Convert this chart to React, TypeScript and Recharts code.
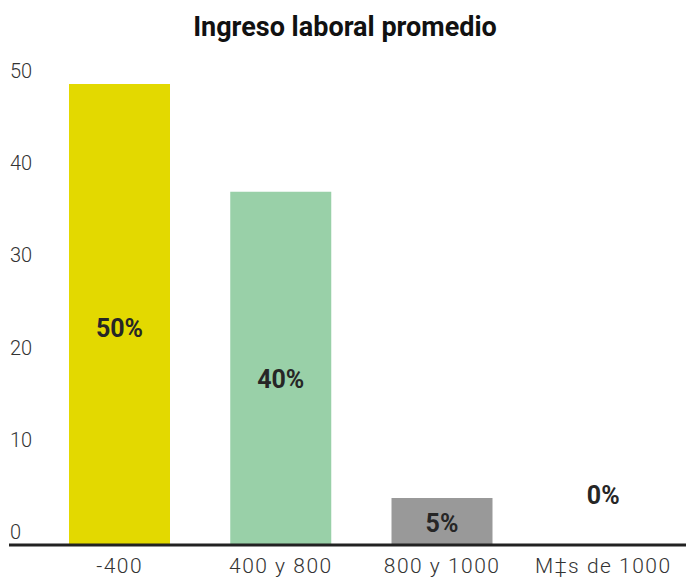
import React from 'react';
import { BarChart, Bar, XAxis, YAxis, Cell, LabelList } from 'recharts';

// --- Data ---
const categories = ['-400', '400 y 800', '800 y 1000', 'M‡s de 1000'];
const values = [50, 38.3, 5.1, 0];
const percentLabels = ['50%', '40%', '5%', '0%'];
const barColors = ['#e3d900', '#99d0a8', '#999999', 'transparent'];
const yTicks = [0, 10, 20, 30, 40, 50];

const data = categories.map((name, i) => ({ name, value: values[i], label: percentLabels[i] }));

const FONT = 'Roboto, "Noto Sans", sans-serif';

const YTick = (props: any) => {
  const { y, payload } = props;
  return (
    <text x={10} y={y - 13} dy="0.35em" textAnchor="start" fontFamily={FONT} fontWeight={300} fontSize={20} fill="#333">
      {payload.value}
    </text>
  );
};

const XTick = (props: any) => {
  const { x, y, payload } = props;
  return (
    <text x={x} y={y + 13} dy="0.35em" textAnchor="middle" fontFamily={FONT} fontWeight={300} fontSize={21} fill="#333" letterSpacing={1.5}>
      {payload.value}
    </text>
  );
};

const BarLabel = (props: any) => {
  const { x, y, width, height, index } = props;
  const h = Number(height) || 0;
  // empty bars get their label floated above the baseline
  const ly = h < 2 ? Number(y) + h - 50 : Number(y) + h * 0.53;
  return (
    <text x={Number(x) + Number(width) / 2} y={ly} dy="0.35em" textAnchor="middle" fontFamily={FONT} fontWeight={700} fontSize={25} fill="#262626">
      {percentLabels[index]}
    </text>
  );
};

const App: React.FC = () => {
  return (
    <div style={{ position: 'absolute', left: 0, top: 0, width: 686, height: 578, background: '#fff' }}>
      <div
        style={{
          position: 'absolute', left: 0, top: 12, width: 690, textAlign: 'center',
          fontFamily: FONT, fontWeight: 700, fontSize: 27, color: '#111', lineHeight: '30px',
        }}
      >
        Ingreso laboral promedio
      </div>
      <BarChart width={686} height={578} data={data} margin={{ top: 84, right: 0, left: 8, bottom: 3 }}>
        <YAxis width={1} domain={[0, 50]} ticks={yTicks} axisLine={false} tickLine={false} tick={<YTick />} />
        <XAxis
          dataKey="name"
          padding={{ left: 30, right: 2 }}
          axisLine={{ stroke: '#222', strokeWidth: 3 }}
          tickLine={false}
          tick={<XTick />}
          interval={0}
        />
        <Bar dataKey="value" barSize={101} minPointSize={1} isAnimationActive={false}>
          {data.map((d, i) => (
            <Cell key={d.name} fill={barColors[i]} />
          ))}
          <LabelList dataKey="label" content={<BarLabel />} />
        </Bar>
      </BarChart>
    </div>
  );
};

export default App;
